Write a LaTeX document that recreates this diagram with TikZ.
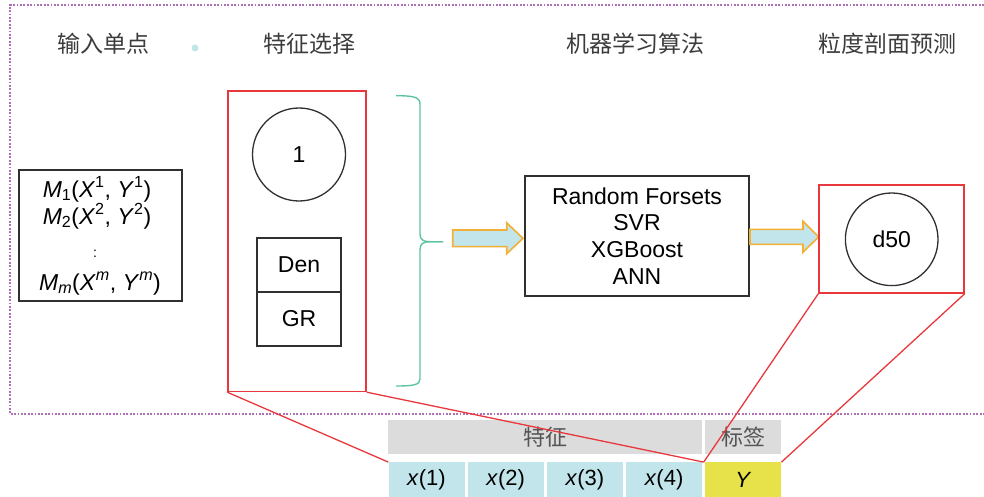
\documentclass[tikz,border=0pt]{standalone}
\usepackage{fontspec}
\setmainfont{Liberation Sans}
\newfontfamily\cjk{Noto Sans CJK SC}
\usetikzlibrary{calc}
\definecolor{titlegray}{HTML}{3C3C3C}
\definecolor{lightblue}{HTML}{C2E5EB}
\definecolor{arroworange}{HTML}{F2B134}
\definecolor{braceteal}{HTML}{5CC49C}
\definecolor{hdrgray}{HTML}{DCDCDC}
\definecolor{hdrtext}{HTML}{555555}
\definecolor{cellyellow}{HTML}{E8E24A}
\definecolor{zoomred}{HTML}{E8383D}
\definecolor{framepurple}{HTML}{B070B8}
\definecolor{linegray}{HTML}{303030}
\tikzset{
  title/.style={font=\cjk\fontsize{23}{23}\selectfont, text=titlegray, inner sep=0},
  blackbox/.style={draw=linegray, line width=1.4pt, inner sep=0},
  redbox/.style={draw=zoomred, line width=1.4pt, inner sep=0},
  ringnode/.style={draw=linegray, line width=1.3pt, circle, inner sep=0, minimum size=93, font=\fontsize{23}{23}\selectfont},
  cellbox/.style={blackbox, minimum width=84, minimum height=54, font=\fontsize{23}{23}\selectfont},
  mtext/.style={inner sep=0, anchor=base, font=\fontsize{23}{23}\selectfont, text=black},
  hdr/.style={fill=hdrgray, inner sep=0, minimum height=34, font=\cjk\fontsize{22}{22}\selectfont, text=hdrtext},
  feat/.style={fill=lightblue, inner sep=0, minimum width=76, minimum height=34.4, font=\fontsize{22}{22}\selectfont},
  barrow/.style={fill=lightblue, draw=arroworange, line width=1.6pt, line join=miter},
  bracestyle/.style={draw=braceteal, line width=1.4pt},
  zoomline/.style={draw=zoomred, line width=1.3pt},
  framestyle/.style={draw=framepurple, line width=1.2pt, dash pattern=on 1.8pt off 1.6pt},
}
\begin{document}
\begin{tikzpicture}[x=1pt,y=-1pt]
\useasboundingbox (0,0) rectangle (984,497);
% dotted frame
\draw[framestyle] (984,5) -- (10,5) -- (10,414) -- (984,414);
% titles
\node[title] (t1) at (103,44) {输入单点};
\node[circle, fill=lightblue, minimum size=7, inner sep=0] (dot) at (195,48) {};
\node[title] (t2) at (309,44) {特征选择};
\node[title] (t3) at (635,44) {机器学习算法};
\node[title] (t4) at (887,44) {粒度剖面预测};
% input box
\node[blackbox, minimum width=163, minimum height=131] (inbox) at (100.5,235.5) {};
\node[mtext] (m1) at (97,197) {\textit{M}\textsubscript{1}(\textit{X}\textsuperscript{1}, \textit{Y}\textsuperscript{1})};
\node[mtext] (m2) at (97,224) {\textit{M}\textsubscript{2}(\textit{X}\textsuperscript{2}, \textit{Y}\textsuperscript{2})};
\node[mtext, font=\fontsize{14}{14}\selectfont] (m3) at (95,257) {:};
\node[mtext] (m4) at (100,290) {\textit{M}\textsubscript{\textit{m}}(\textit{X}\textsuperscript{\textit{m}}, \textit{Y}\textsuperscript{\textit{m}})};
% feature selection box
\node[redbox, minimum width=138, minimum height=300.5] (fs) at (297,241.25) {};
\node[ringnode] (one) at (299,154.5) {1};
\node[cellbox] (den) at (299,265) {Den};
\node[cellbox] (gr) at (299,319) {GR};
% brace
\coordinate (btip) at (443,241.7);
\draw[bracestyle] (396,95.7) .. controls (413,95.7) and (420,97) .. (420,104)
  -- (420,234) .. controls (420,239.5) and (423,241.7) .. (430,241.7) -- (btip);
\draw[bracestyle] (btip) -- (430,241.7) .. controls (423,241.7) and (420,244) .. (420,249.5)
  -- (420,379) .. controls (420,385) and (413,386) .. (396,386);
% ML box
\node[blackbox, minimum width=224, minimum height=120, align=center, font=\fontsize{23}{26.7}\selectfont] (ml) at (637,236) {Random Forsets\\SVR\\XGBoost\\ANN};
% arrows
\coordinate (a1s) at (452.7,238.3);
\draw[barrow] (a1s) ++(0,-8.3) -- ++(54,0) -- ++(0,-7.2) -- ++(16.3,15.5) -- ++(-16.3,15.5) -- ++(0,-7.2) -- ++(-54,0) -- cycle;
\coordinate (a2s) at (750,236.8);
\draw[barrow] (a2s) ++(0,-7.5) -- ++(53,0) -- ++(0,-8) -- ++(15.6,15.5) -- ++(-15.6,15.5) -- ++(0,-8) -- ++(-53,0) -- cycle;
% d50 box
\node[redbox, minimum width=145, minimum height=108] (pb) at (891.5,239) {};
\node[ringnode, minimum size=92.6] (d50) at (891.7,239.3) {d50};
% bottom table
\node[hdr, minimum width=313.4] (h1) at (545,437) {特征};
\node[hdr, minimum width=76] (h2) at (743.3,437) {标签};
\node[feat] (x1) at (426.5,479.5) {\textit{x}(1)};
\node[feat] (x2) at (505.7,479.5) {\textit{x}(2)};
\node[feat] (x3) at (584.9,479.5) {\textit{x}(3)};
\node[feat] (x4) at (664.1,479.5) {\textit{x}(4)};
\node[feat, fill=cellyellow] (yy) at (743.3,479.5) {\textit{Y}};
% zoom lines
\coordinate (jn) at ($(x4.north east)!0.5!(yy.north west)$);
\draw[zoomline] (fs.south west) -- (x1.north west);
\draw[zoomline] (fs.south east) -- (jn);
\draw[zoomline] (pb.south west) -- (jn);
\draw[zoomline] (pb.south east) -- (yy.north east);
\end{tikzpicture}
\end{document}
